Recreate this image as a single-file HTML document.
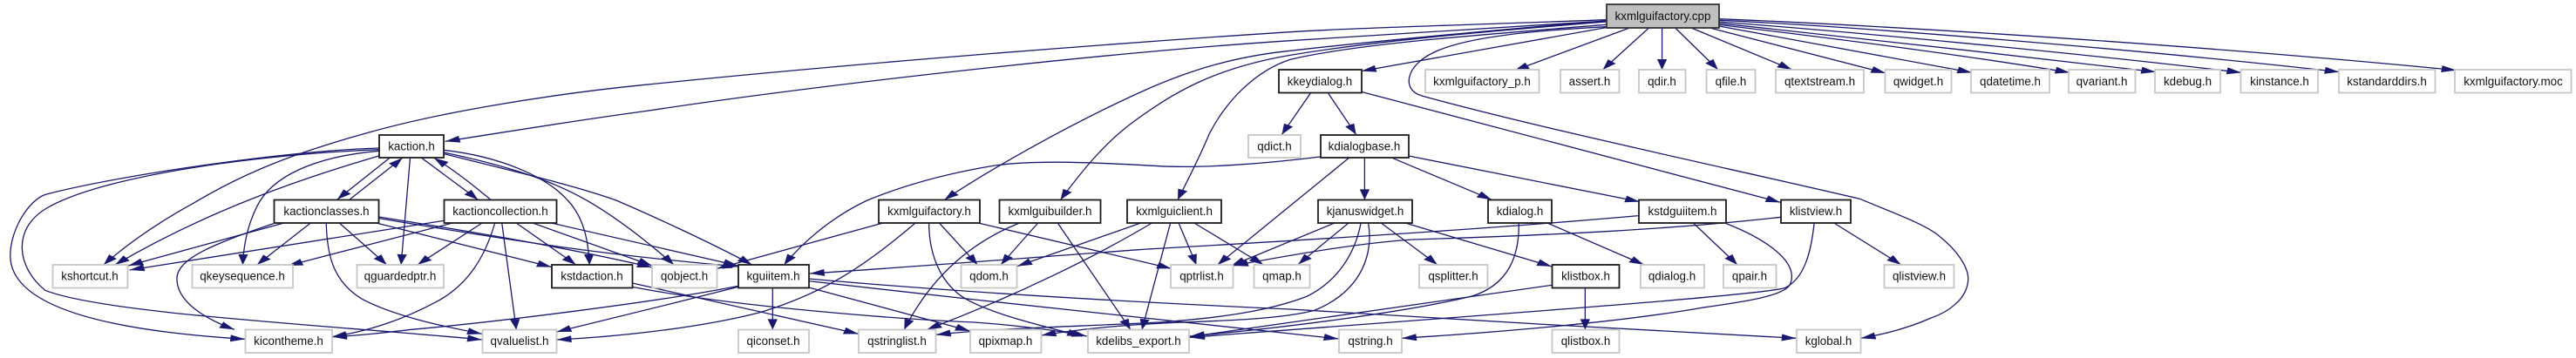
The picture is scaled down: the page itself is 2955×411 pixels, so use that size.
<!DOCTYPE html>
<html><head><meta charset="utf-8"><style>
html,body{margin:0;padding:0;background:#fff;width:2955px;height:411px;overflow:hidden}
svg{display:block}
.e path{fill:none;stroke:#191970;stroke-width:1.3px;vector-effect:non-scaling-stroke;marker-end:url(#a)}
.n rect{fill:#fff;stroke:#1c1c1c;stroke-width:1.8}
.n rect.g{stroke:#c6c6c6}
.n rect.r{fill:#bfbfbf;stroke:#333}
.n text{font:13.4px "Liberation Sans",sans-serif;fill:#111;text-anchor:middle}
</style></head><body>
<svg width="2955" height="411" viewBox="0 0 2955 411" xmlns="http://www.w3.org/2000/svg">
<defs><marker id="a" markerUnits="userSpaceOnUse" markerWidth="40" markerHeight="28" refX="36" refY="12" orient="auto" overflow="visible"><path d="M0,0 L36,12 L0,24 Z" fill="#191970"/></marker></defs>

<g class="e" transform="scale(0.4719 0.33333)">
<path d="M3904,72 C3600,100 3300,125 3136,140 C2700,180 2000,290 1568,383 C1400,415 1250,450 1082,487"/>
<path d="M3904,68 C3600,85 3300,95 3136,110 C2700,150 2100,215 1568,292 C1300,330 1050,395 900,455 C720,525 600,590 470,700 C380,770 310,840 252,912"/>
<path d="M3904,72 C3700,95 3350,140 3136,175 C3000,195 2900,240 2800,300 C2600,425 2400,590 2296,688"/>
<path d="M3904,75 C3600,110 3350,140 3136,190 C2950,235 2850,320 2750,425 C2680,500 2630,590 2578,688"/>
<path d="M3904,85 C3600,120 3300,150 3136,205 C3050,245 2980,350 2940,460 C2910,560 2880,640 2863,688"/>
<path d="M4179,65 C4600,90 5300,150 5971,242"/>
<path d="M4179,70 C4500,90 5200,170 5687,248"/>
<path d="M4179,75 C4500,110 5000,175 5449,250"/>
<path d="M4179,80 C4500,130 4900,190 5241,248"/>
<path d="M4179,85 C4500,140 4750,185 5032,250"/>
<path d="M4179,90 L4794,250"/>
<path d="M947,544 L820,687"/>
<path d="M850,687 L978,544"/>
<path d="M1025,544 L1162,688"/>
<path d="M1192,687 C1160,650 1110,590 1055,544"/>
<path d="M997,544 L975,912"/>
<path d="M921,510 C700,520 300,600 110,670 C70,690 25,790 25,880 C25,1060 270,1140 596,1168"/>
<path d="M921,515 C650,530 250,600 110,720 C30,790 40,920 110,1000 C250,1080 800,1120 1172,1170"/>
<path d="M921,520 C760,540 660,610 625,710 C600,780 592,850 590,912"/>
<path d="M921,537 C720,620 500,730 280,912"/>
<path d="M1079,517 C1220,540 1330,610 1380,690 C1420,750 1430,830 1433,912"/>
<path d="M1079,525 C1230,570 1340,620 1426,690 C1500,750 1580,840 1638,912"/>
<path d="M1079,530 C1250,590 1400,640 1498,690 C1580,740 1720,830 1828,912"/>
<path d="M690,768 L312,915"/>
<path d="M755,768 L625,912"/>
<path d="M825,768 L940,912"/>
<path d="M915,768 L1341,920"/>
<path d="M665,770 C520,840 430,890 430,960 C430,1040 500,1100 570,1135"/>
<path d="M793,768 C795,880 810,970 880,1030 C960,1090 1080,1125 1172,1150"/>
<path d="M921,747 C1200,810 1400,860 1585,921"/>
<path d="M921,752 C1150,805 1400,870 1794,918"/>
<path d="M1079,760 L315,930"/>
<path d="M1100,768 L700,915"/>
<path d="M1172,768 L1015,912"/>
<path d="M1255,768 L1400,912"/>
<path d="M1203,768 C1180,880 1140,980 1060,1040 C980,1100 900,1140 807,1160"/>
<path d="M1220,768 L1255,1135"/>
<path d="M1295,768 L1585,915"/>
<path d="M1340,768 L1794,915"/>
<path d="M1537,988 C1800,1060 2200,1100 2368,1110 C2450,1118 2560,1135 2642,1158"/>
<path d="M1537,975 L2087,1150"/>
<path d="M1794,985 C1600,1040 1200,1110 1000,1135 C940,1145 880,1155 807,1160"/>
<path d="M1794,988 C1650,1040 1450,1110 1353,1143"/>
<path d="M1966,968 C2400,1040 2900,1110 3254,1167"/>
<path d="M1966,960 C2400,1015 2900,1050 3136,1065 C3500,1095 4000,1140 4367,1165"/>
<path d="M2225,768 C2100,920 2000,1010 1850,1075 C1700,1130 1500,1160 1353,1170"/>
</g>

<g class="e" transform="translate(740 0) scale(0.4719 0.33333)">
<path d="M310,992 L310,1135"/>
<path d="M398,990 L790,1140"/>
<path d="M578,768 L175,925"/>
<path d="M715,768 L808,912"/>
<path d="M690,768 C690,880 720,980 780,1030 C850,1085 960,1120 1062,1158"/>
<path d="M810,768 L1280,925"/>
<path d="M910,768 C800,830 700,940 630,1135"/>
<path d="M955,768 L865,912"/>
<path d="M1003,768 L1180,1135"/>
<path d="M1205,768 L905,917"/>
<path d="M1232,768 C1100,880 900,1020 685,1135"/>
<path d="M1277,768 L1208,1135"/>
<path d="M1297,768 L1340,912"/>
<path d="M1335,768 L1503,912"/>
<path d="M1641,540 C1500,565 1350,580 1250,572 C1100,560 950,550 850,570 C700,605 600,655 540,690 C450,750 380,840 338,912"/>
<path d="M1710,545 L1392,912"/>
<path d="M1676,768 L1425,915"/>
<path d="M2415,743 C2000,795 1500,835 1200,860 C1000,880 700,915 400,942"/>
<path d="M2760,748 C2500,790 2200,810 1868,825 C1750,835 1600,870 1430,915"/>
<path d="M1740,768 C1725,880 1680,970 1610,1020 C1520,1070 1400,1095 1250,1110 C1050,1125 850,1130 707,1153"/>
<path d="M1758,768 C1770,860 1750,1000 1625,1070 C1540,1100 1400,1105 1271,1112 C1150,1120 1050,1135 963,1155"/>
<path d="M2124,768 C2125,880 2100,980 2010,1020 C1850,1075 1550,1130 1324,1158"/>
<path d="M2204,982 L1324,1160"/>
<path d="M2842,768 C2835,860 2820,960 2770,992 C2700,1020 1900,1100 1324,1162"/>
</g>

<g class="e" transform="translate(1480 0) scale(0.4719 0.33333)">
<path d="M768,95 L173,245"/>
<path d="M825,96 L545,243"/>
<path d="M872,96 L760,240"/>
<path d="M904,96 L904,240"/>
<path d="M936,96 L1040,240"/>
<path d="M975,96 L1220,240"/>
<path d="M1020,96 L1448,252"/>
<path d="M288,537 L850,695"/>
<path d="M250,545 L490,688"/>
<path d="M181,545 L181,688"/>
<path d="M50,320 L-20,463"/>
<path d="M92,320 L160,463"/>
<path d="M173,316 L1192,697"/>
<path d="M142,768 L20,910"/>
<path d="M221,768 L358,912"/>
<path d="M280,768 L636,918"/>
<path d="M625,768 L860,912"/>
<path d="M980,768 L1087,912"/>
<path d="M717,992 L717,1135"/>
<path d="M1322,768 L1485,912"/>
<path d="M1060,770 C1150,820 1240,900 1215,980 C1200,1020 1100,1040 1000,1060 C800,1110 500,1145 271,1165"/>
<path d="M768,92 C600,105 430,125 350,180 C280,225 270,310 320,330 C600,440 1100,590 1385,685 C1460,730 1540,770 1575,810 C1620,860 1650,920 1648,965 C1645,1030 1600,1075 1558,1095 C1510,1125 1450,1150 1387,1165"/>
</g>

<g class="n">
<rect class="r" x="1843" y="5" width="129" height="27"/><text x="1907.5" y="23">kxmlguifactory.cpp</text>

<rect x="1467" y="80" width="95" height="26.5"/><text x="1514" y="98">kkeydialog.h</text>
<rect class="g" x="1635" y="80" width="130.5" height="26.5"/><text x="1700" y="98">kxmlguifactory_p.h</text>
<rect class="g" x="1790" y="80" width="67.5" height="26.5"/><text x="1823.5" y="98">assert.h</text>
<rect class="g" x="1880" y="80" width="53.5" height="26.5"/><text x="1906.5" y="98">qdir.h</text>
<rect class="g" x="1957.5" y="80" width="56" height="26.5"/><text x="1985.5" y="98">qfile.h</text>
<rect class="g" x="2037" y="80" width="101" height="26.5"/><text x="2087.5" y="98">qtextstream.h</text>
<rect class="g" x="2162.5" y="80" width="76" height="26.5"/><text x="2200.5" y="98">qwidget.h</text>
<rect class="g" x="2261" y="80" width="90" height="26.5"/><text x="2306" y="98">qdatetime.h</text>
<rect class="g" x="2373" y="80" width="76.5" height="26.5"/><text x="2411" y="98">qvariant.h</text>
<rect class="g" x="2472" y="80" width="75" height="26.5"/><text x="2509.5" y="98">kdebug.h</text>
<rect class="g" x="2570.5" y="80" width="88.5" height="26.5"/><text x="2615" y="98">kinstance.h</text>
<rect class="g" x="2683" y="80" width="110.5" height="26.5"/><text x="2738" y="98">kstandarddirs.h</text>
<rect class="g" x="2816" y="80" width="133.5" height="26.5"/><text x="2883" y="98">kxmlguifactory.moc</text>

<rect x="435" y="155" width="74" height="26"/><text x="472" y="172.5">kaction.h</text>
<rect class="g" x="1432" y="155" width="60" height="26"/><text x="1462" y="172.5">qdict.h</text>
<rect x="1515" y="155" width="101" height="26"/><text x="1565" y="172.5">kdialogbase.h</text>

<rect x="314.5" y="229.5" width="120" height="26.5"/><text x="374.5" y="247">kactionclasses.h</text>
<rect x="509.5" y="229.5" width="129" height="26.5"/><text x="574" y="247">kactioncollection.h</text>
<rect x="1008" y="229.5" width="116" height="26.5"/><text x="1066" y="247">kxmlguifactory.h</text>
<rect x="1146.5" y="229.5" width="116" height="26.5"/><text x="1204.5" y="247">kxmlguibuilder.h</text>
<rect x="1293" y="229.5" width="108" height="26.5"/><text x="1347" y="247">kxmlguiclient.h</text>
<rect x="1512" y="229.5" width="108" height="26.5"/><text x="1566" y="247">kjanuswidget.h</text>
<rect x="1707" y="229.5" width="73" height="26.5"/><text x="1743.5" y="247">kdialog.h</text>
<rect x="1880" y="229.5" width="100" height="26.5"/><text x="1930" y="247">kstdguiitem.h</text>
<rect x="2043" y="229.5" width="80" height="26.5"/><text x="2083" y="247">klistview.h</text>

<rect class="g" x="60.5" y="304" width="86" height="26.5"/><text x="103" y="321.5">kshortcut.h</text>
<rect class="g" x="220.5" y="304" width="115.5" height="26.5"/><text x="278" y="321.5">qkeysequence.h</text>
<rect class="g" x="409.5" y="304" width="99.5" height="26.5"/><text x="459" y="321.5">qguardedptr.h</text>
<rect x="633" y="304" width="92.5" height="26.5"/><text x="679" y="321.5">kstdaction.h</text>
<rect class="g" x="748" y="304" width="74.5" height="26.5"/><text x="785" y="321.5">qobject.h</text>
<rect x="847" y="304" width="81" height="26.5"/><text x="887" y="321.5">kguiitem.h</text>
<rect class="g" x="1102.5" y="304" width="64" height="26.5"/><text x="1134.5" y="321.5">qdom.h</text>
<rect class="g" x="1343" y="304" width="71.5" height="26.5"/><text x="1378.5" y="321.5">qptrlist.h</text>
<rect class="g" x="1438.5" y="304" width="64" height="26.5"/><text x="1470.5" y="321.5">qmap.h</text>
<rect class="g" x="1628" y="304" width="78.5" height="26.5"/><text x="1667" y="321.5">qsplitter.h</text>
<rect x="1780.5" y="304" width="77" height="26.5"/><text x="1819" y="321.5">klistbox.h</text>
<rect class="g" x="1882" y="304" width="73" height="26.5"/><text x="1918" y="321.5">qdialog.h</text>
<rect class="g" x="1977" y="304" width="60.5" height="26.5"/><text x="2007" y="321.5">qpair.h</text>
<rect class="g" x="2161.5" y="304" width="80" height="26.5"/><text x="2201.5" y="321.5">qlistview.h</text>

<rect class="g" x="281.5" y="378.5" width="99.5" height="26.5"/><text x="331" y="396">kicontheme.h</text>
<rect class="g" x="553.5" y="378.5" width="85" height="26.5"/><text x="596" y="396">qvaluelist.h</text>
<rect class="g" x="847" y="378.5" width="81" height="26.5"/><text x="887" y="396">qiconset.h</text>
<rect class="g" x="985" y="378.5" width="88.5" height="26.5"/><text x="1029" y="396">qstringlist.h</text>
<rect class="g" x="1113" y="378.5" width="81.5" height="26.5"/><text x="1153.5" y="396">qpixmap.h</text>
<rect class="g" x="1248" y="378.5" width="116" height="26.5"/><text x="1306" y="396">kdelibs_export.h</text>
<rect class="g" x="1536" y="378.5" width="72" height="26.5"/><text x="1572" y="396">qstring.h</text>
<rect class="g" x="1780.5" y="378.5" width="77" height="26.5"/><text x="1819" y="396">qlistbox.h</text>
<rect class="g" x="2061" y="378.5" width="73.5" height="26.5"/><text x="2097.5" y="396">kglobal.h</text>
</g>
</svg>
</body></html>
